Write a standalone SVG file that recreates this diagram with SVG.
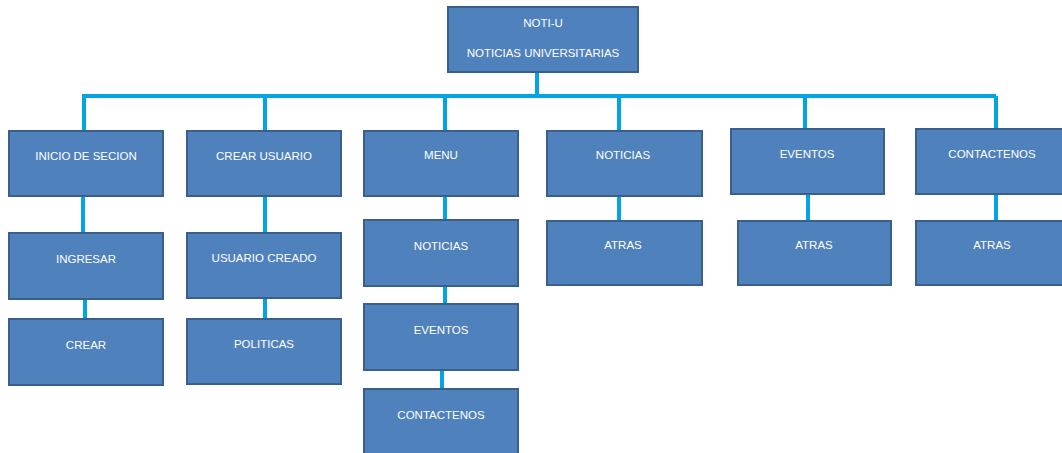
<svg xmlns="http://www.w3.org/2000/svg" width="1062" height="453" viewBox="0 0 1062 453">
<style>
.box{fill:#4F81BD;stroke:#3A5F8C;stroke-width:2}
.t{font-family:"Liberation Sans",Arial,sans-serif;font-size:11.5px;fill:#FFFFFF;text-anchor:middle}
.c{stroke:#03A4E6;stroke-width:4;fill:none}
</style>
<rect width="1062" height="453" fill="#FFFFFF"/>
<g id="connectors">
<line class="c" x1="537" y1="72" x2="537" y2="96"/>
<line class="c" x1="82" y1="96" x2="996" y2="96"/>
<line class="c" x1="84" y1="96" x2="84" y2="131"/>
<line class="c" x1="265" y1="96" x2="265" y2="131"/>
<line class="c" x1="445" y1="96" x2="445" y2="131"/>
<line class="c" x1="619" y1="96" x2="619" y2="131"/>
<line class="c" x1="805" y1="96" x2="805" y2="129"/>
<line class="c" x1="996" y1="96" x2="996" y2="129"/>
<line class="c" x1="83" y1="196" x2="83" y2="233"/>
<line class="c" x1="85" y1="299" x2="85" y2="319"/>
<line class="c" x1="265" y1="196" x2="265" y2="233"/>
<line class="c" x1="265" y1="298" x2="265" y2="319"/>
<line class="c" x1="445" y1="196" x2="445" y2="220"/>
<line class="c" x1="445" y1="286" x2="445" y2="304"/>
<line class="c" x1="442" y1="370" x2="442" y2="389"/>
<line class="c" x1="619" y1="196" x2="619" y2="221"/>
<line class="c" x1="808" y1="194" x2="808" y2="221"/>
<line class="c" x1="996" y1="194" x2="996" y2="221"/>
</g>
<g id="root"><rect class="box" x="448" y="7" width="190" height="65"/><text class="t" x="543" y="27">NOTI-U</text><text class="t" x="543" y="57">NOTICIAS UNIVERSITARIAS</text></g>
<g id="inicio"><rect class="box" x="9" y="131" width="154" height="65"/><text class="t" x="86" y="160">INICIO DE SECION</text></g>
<g id="ingresar"><rect class="box" x="9" y="233" width="154" height="66"/><text class="t" x="86" y="263">INGRESAR</text></g>
<g id="crear"><rect class="box" x="9" y="319" width="154" height="66"/><text class="t" x="86" y="349">CREAR</text></g>
<g id="crear-usuario"><rect class="box" x="187" y="131" width="154" height="65"/><text class="t" x="264" y="160">CREAR USUARIO</text></g>
<g id="usuario-creado"><rect class="box" x="187" y="233" width="154" height="65"/><text class="t" x="264" y="262">USUARIO CREADO</text></g>
<g id="politicas"><rect class="box" x="187" y="319" width="154" height="65"/><text class="t" x="264" y="348">POLITICAS</text></g>
<g id="menu"><rect class="box" x="364" y="131" width="154" height="65"/><text class="t" x="441" y="159">MENU</text></g>
<g id="menu-noticias"><rect class="box" x="364" y="220" width="154" height="66"/><text class="t" x="441" y="250">NOTICIAS</text></g>
<g id="menu-eventos"><rect class="box" x="364" y="304" width="154" height="66"/><text class="t" x="441" y="334">EVENTOS</text></g>
<g id="menu-contactenos"><rect class="box" x="364" y="389" width="154" height="70"/><text class="t" x="441" y="419">CONTACTENOS</text></g>
<g id="noticias"><rect class="box" x="547" y="131" width="155" height="65"/><text class="t" x="623" y="159">NOTICIAS</text></g>
<g id="noticias-atras"><rect class="box" x="547" y="221" width="155" height="64"/><text class="t" x="623" y="249">ATRAS</text></g>
<g id="eventos"><rect class="box" x="731" y="129" width="153" height="65"/><text class="t" x="807" y="158">EVENTOS</text></g>
<g id="eventos-atras"><rect class="box" x="738" y="221" width="153" height="64"/><text class="t" x="814" y="249">ATRAS</text></g>
<g id="contactenos"><rect class="box" x="916" y="129" width="150" height="65"/><text class="t" x="992" y="158">CONTACTENOS</text></g>
<g id="contactenos-atras"><rect class="box" x="916" y="221" width="150" height="64"/><text class="t" x="992" y="249">ATRAS</text></g>
</svg>
